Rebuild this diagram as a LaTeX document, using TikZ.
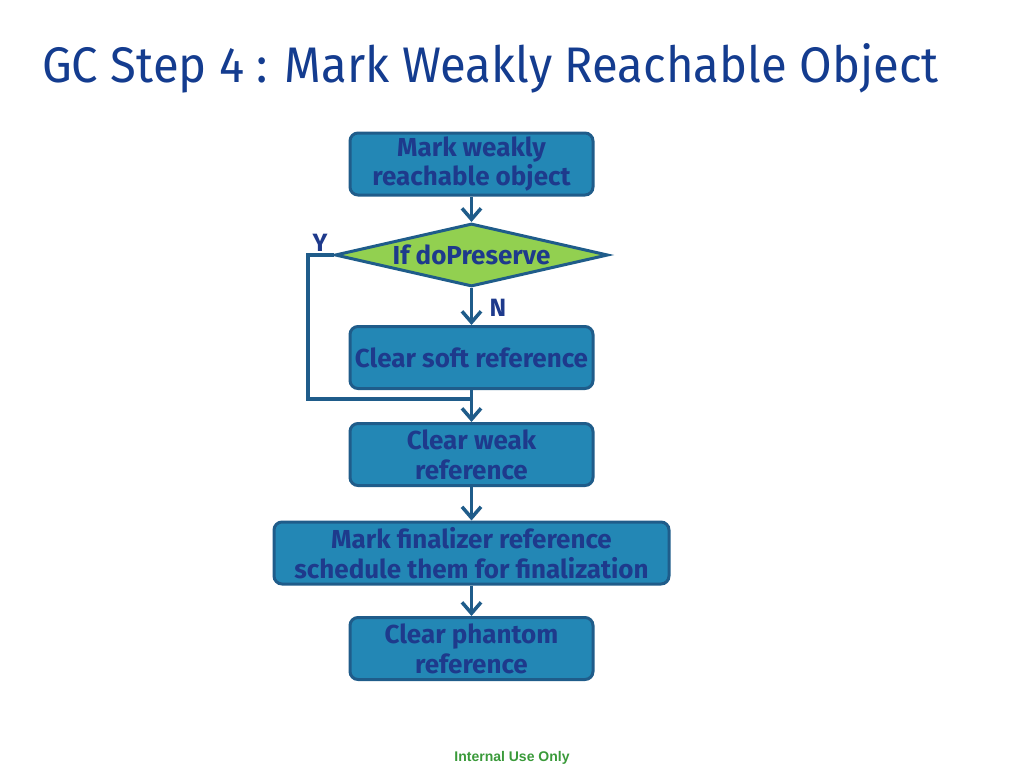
\documentclass[tikz,border=0pt]{standalone}
\usepackage{fontspec}
\setmainfont{Fira Sans}
\newfontfamily\footfont{Liberation Sans}
\usetikzlibrary{arrows.meta,shapes.geometric}
\definecolor{boxfill}{HTML}{2387B5}
\definecolor{boxline}{HTML}{1F5C8A}
\definecolor{txtblue}{HTML}{1E3A8C}
\definecolor{dgreen}{HTML}{92D050}
\definecolor{titleblue}{HTML}{143C8F}
\definecolor{footgreen}{HTML}{3A9A3A}
\begin{document}
\begin{tikzpicture}[x=1pt,y=-1pt,
  stepbox/.style={draw=boxline,fill=boxfill,line width=3pt,rounded corners=8pt,
    minimum height=62pt,align=center,text=txtblue,font=\fontsize{26}{30}\selectfont\bfseries,inner sep=2pt},
  decision/.style={draw=boxline,fill=dgreen,line width=3pt,diamond,aspect=4.3,
    minimum width=273pt,minimum height=63pt,inner sep=0pt,text=txtblue,font=\fontsize{26}{30}\selectfont\bfseries},
  conn/.style={draw=boxline,line width=3.5pt,-{Straight Barb[length=11pt,width=19pt,line width=3.5pt]}},
  plain/.style={draw=boxline,line width=3.5pt},
  lab/.style={text=txtblue,font=\fontsize{25}{30}\selectfont\bfseries}]
\useasboundingbox (0,0) rectangle (1024,768);
\node[anchor=base west,text=titleblue,inner sep=0pt] (title) at (42,82)
  {\scalebox{0.944}[1]{\fontsize{50}{60}\selectfont GC Step 4 : Mark Weakly Reachable Object}};
\node[stepbox,minimum width=243pt] (b1) at (471.5,164) {\raisebox{-3pt}{\shortstack{Mark weakly\\reachable object}}};
\node[decision] (d) at (471.5,255) {If doPreserve};
\node[stepbox,minimum width=243pt] (b2) at (471.5,357.5) {Clear soft reference};
\node[stepbox,minimum width=243pt] (b3) at (471.5,454.5) {Clear weak\\reference};
\node[stepbox,minimum width=395pt] (b4) at (471.5,553) {Mark finalizer reference\\schedule them for finalization};
\node[stepbox,minimum width=243pt] (b5) at (471.5,648.5) {Clear phantom\\reference};
\coordinate (loopL) at (308,255);
\coordinate (join) at (471.5,399);
\draw[conn] (b1) -- (d);
\draw[conn] (d) -- (b2);
\draw[plain] (d.west) -- (loopL) |- (join);
\draw[plain] (b2.south) -- (join);
\draw[conn] (join) -- (b3.north);
\draw[conn] (b3) -- (b4);
\draw[conn] (b4) -- (b5);
\node[lab] (ylab) at (320,243) {Y};
\node[lab] (nlab) at (498,308) {N};
\node[text=footgreen,font=\footfont\fontsize{14}{16}\selectfont\bfseries] (foot) at (512,758) {Internal Use Only};
\end{tikzpicture}
\end{document}
